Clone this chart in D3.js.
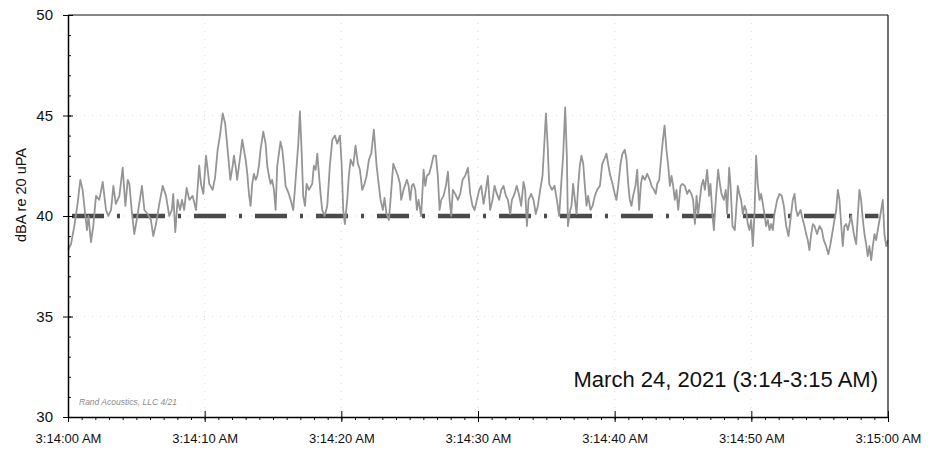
<!DOCTYPE html>
<html><head><meta charset="utf-8">
<script src="https://cdn.jsdelivr.net/npm/d3@7"></script>
<style>
body{margin:0;background:#fff;}
svg{display:block;font-family:"Liberation Sans",Arial,sans-serif;}
</style></head><body>
<svg id="chart" width="942" height="453"></svg>
<script>
// ---- data (seconds after 3:14:00 AM, dBA) ----
const seconds = [0.00,0.22,0.46,0.70,0.90,1.07,1.24,1.39,1.50,1.68,1.85,2.05,2.29,2.54,2.78,2.95,3.15,3.32,3.50,3.76,4.00,4.20,4.37,4.49,4.66,4.85,5.10,5.41,5.59,5.83,6.07,6.24,6.44,6.68,6.93,7.17,7.41,7.60,7.70,7.85,8.02,8.20,8.34,8.50,8.68,8.88,9.12,9.37,9.60,9.73,9.90,10.10,10.34,10.58,10.76,10.95,11.12,11.32,11.50,11.68,11.88,12.05,
12.14,12.26,12.38,12.51,12.63,12.75,12.87,13.00,13.12,13.24,13.36,13.48,13.60,13.73,13.85,13.97,14.09,14.29,14.46,14.58,14.70,14.82,14.94,15.07,15.19,15.31,15.55,15.68,15.80,15.92,16.04,16.16,16.29,16.48,16.60,16.73,16.85,16.97,17.09,17.21,17.34,17.46,17.63,17.87,17.99,18.12,18.24,18.36,18.48,18.60,18.77,18.97,19.16,19.34,19.53,19.70,19.90,20.02,20.14,20.26,20.43,20.55,20.68,20.87,21.04,21.21,21.36,21.53,21.70,21.85,22.02,22.19,22.38,22.58,22.75,22.87,23.04,23.16,23.31,23.48,23.60,23.80,23.97,24.14,24.29,24.38,
24.55,24.80,24.92,25.04,25.16,25.28,25.41,25.53,25.65,25.84,26.02,26.14,26.26,26.43,26.58,26.75,26.92,27.06,27.19,27.31,27.48,27.65,27.80,27.92,28.04,28.16,28.33,28.53,28.70,28.87,29.06,29.26,29.43,29.60,29.75,29.92,30.09,30.23,30.41,30.58,30.72,30.89,31.06,31.21,31.38,31.55,31.70,31.87,32.04,32.19,32.36,32.48,32.67,32.84,33.02,33.16,33.33,33.45,33.58,33.70,33.89,34.06,34.23,34.38,34.55,34.72,34.87,34.97,35.09,35.21,35.41,35.60,35.77,35.94,36.09,36.23,36.38,36.50,36.58,36.75,
36.84,36.96,37.09,37.21,37.33,37.45,37.57,37.70,37.82,37.94,38.06,38.23,38.38,38.55,38.72,38.92,39.09,39.23,39.40,39.52,39.65,39.84,40.01,40.13,40.26,40.43,40.57,40.74,40.87,40.99,41.11,41.23,41.35,41.52,41.65,41.79,41.92,42.04,42.21,42.38,42.57,42.70,42.87,43.01,43.11,43.26,43.35,43.50,43.65,43.79,43.92,44.04,44.16,44.28,44.40,44.52,44.65,44.82,44.96,45.13,45.31,45.45,45.62,45.74,45.87,45.99,46.11,46.23,46.35,46.48,46.60,46.77,46.91,47.01,47.16,47.26,47.40,47.57,47.70,47.82,47.99,48.13,48.23,48.38,48.48,48.62,48.79,48.91,
49.01,49.13,49.25,49.38,49.50,49.62,49.74,49.86,49.99,50.11,50.23,50.35,50.47,50.60,50.72,50.84,50.96,51.08,51.21,51.33,51.45,51.57,51.69,51.89,52.06,52.23,52.38,52.55,52.72,52.86,53.03,53.16,53.28,53.40,53.60,53.77,53.89,54.01,54.13,54.25,54.38,54.50,54.62,54.81,54.99,55.16,55.30,55.47,55.64,55.79,55.96,56.08,56.21,56.33,56.45,56.57,56.69,56.81,56.94,57.06,57.30,57.50,57.67,57.79,57.91,58.03,58.16,58.28,58.40,58.52,58.64,58.77,58.89,59.01,59.13,59.25,59.38,59.50,59.62,59.74,59.87,59.99];
const dba = [38.3,38.6,39.5,40.6,41.8,41.3,40.2,39.3,40.0,38.7,39.5,41.0,40.8,41.7,40.3,40.0,40.3,41.5,40.6,41.0,42.4,40.5,41.8,41.6,40.3,39.1,40.1,41.5,40.3,40.1,39.8,39.0,39.6,40.6,41.5,41.0,40.0,40.3,41.1,39.2,40.8,40.3,40.8,40.3,41.4,40.8,41.0,40.3,42.5,41.6,41.1,43.0,41.6,41.3,41.9,43.3,44.0,45.1,44.6,43.3,41.8,42.5,
43.0,42.5,41.8,42.5,43.1,43.8,43.3,42.8,42.1,41.1,40.5,41.6,42.1,41.8,42.0,42.5,43.3,44.2,43.6,42.5,42.0,41.6,41.8,41.3,40.3,42.5,43.7,43.3,42.5,41.5,41.3,41.1,40.8,40.3,41.3,42.5,43.6,45.2,43.3,41.0,40.5,41.6,41.3,41.6,42.5,42.3,43.1,42.1,41.1,40.3,40.0,40.5,42.5,43.8,44.0,43.6,44.0,42.6,40.3,39.6,40.8,42.0,42.8,42.5,43.5,42.6,42.3,41.3,41.6,42.0,42.8,43.1,44.3,42.5,41.5,40.8,40.3,40.9,40.1,39.8,40.8,42.6,42.3,42.0,41.6,40.8,
41.3,41.8,41.5,40.8,41.5,41.6,41.3,40.3,40.8,40.0,42.3,41.5,42.0,42.1,42.5,43.0,43.0,42.0,40.3,40.8,41.0,41.5,42.2,40.8,40.0,41.3,41.1,40.8,41.1,41.8,42.0,42.4,41.1,40.5,40.3,40.8,41.3,41.5,40.6,41.3,42.0,40.3,40.8,41.5,41.1,40.8,41.3,41.5,41.0,40.8,40.1,40.8,41.1,41.5,41.0,40.5,41.7,41.3,39.5,40.8,41.1,40.8,40.1,40.5,41.3,42.0,43.8,45.1,43.6,41.6,41.3,41.5,40.8,40.0,41.6,43.0,45.4,43.0,39.5,40.3,
40.5,41.6,40.8,40.1,41.5,42.5,43.0,42.6,41.5,40.5,41.0,40.3,40.5,41.0,41.3,41.5,42.6,42.8,43.1,42.6,42.1,41.6,41.1,40.8,41.5,42.6,43.1,43.3,42.8,41.6,40.8,40.5,41.0,41.5,42.3,40.3,41.6,42.0,41.8,42.1,41.8,41.5,41.3,41.1,41.6,41.8,42.5,43.6,44.5,43.3,42.5,41.5,42.0,41.5,40.8,41.3,40.3,41.5,41.6,41.5,41.1,41.3,41.1,40.8,39.6,41.0,40.1,40.8,41.5,41.8,41.3,42.3,41.0,41.6,40.0,39.3,40.8,42.3,41.6,41.1,40.8,41.3,40.1,42.4,41.5,39.5,39.3,40.5,
41.5,41.1,40.8,40.1,40.5,40.3,39.6,39.3,39.8,38.5,40.1,43.0,41.6,40.8,41.1,40.6,40.1,39.5,39.8,39.3,39.6,39.3,40.1,40.8,41.1,41.0,40.5,39.5,39.0,39.8,40.8,41.1,40.3,40.0,40.3,39.8,39.5,39.1,38.8,38.3,39.1,39.6,39.5,39.1,39.5,39.3,38.8,38.5,38.1,38.6,39.3,39.8,40.3,41.3,40.8,39.6,38.5,39.5,39.6,39.3,40.0,39.1,38.6,40.0,41.3,40.8,39.8,39.1,38.6,38.0,38.5,37.8,38.5,39.1,38.8,39.3,39.8,40.3,40.8,39.1,38.5,38.8];
const referenceLevel = 40;
const yTicks = [30, 35, 40, 45, 50];
const xTickSeconds = [0, 10, 20, 30, 40, 50, 60];
const yLabel = "dBA re 20 uPA";
const noteText = "March 24, 2021 (3:14-3:15 AM)";
const creditText = "Rand Acoustics, LLC 4/21";

// ---- chart ----
const svg = d3.select("#chart");
const L = 68, R = 888, T = 15, B = 417;
const base = new Date(2021, 2, 24, 3, 14, 0);
const toDate = s => new Date(base.getTime() + s * 1000);
const data = seconds.map((s, i) => ({t: toDate(s), v: dba[i]}));

const x = d3.scaleTime().domain([toDate(0), toDate(60)]).range([L, R]);
const y = d3.scaleLinear().domain([30, 50]).range([B, T]);

// faint dotted grid
const grid = svg.append("g").attr("stroke", "#d6d6d6").attr("stroke-width", 1).attr("stroke-dasharray", "1,7");
yTicks.slice(1, -1).forEach(v => grid.append("line").attr("x1", L).attr("x2", R).attr("y1", y(v)).attr("y2", y(v)));
xTickSeconds.slice(1, -1).forEach(s => grid.append("line").attr("x1", x(toDate(s))).attr("x2", x(toDate(s))).attr("y1", T).attr("y2", B));

// reference dash-dot line
svg.append("line")
  .attr("x1", x(toDate(0))).attr("x2", x(toDate(59.3)))
  .attr("y1", y(referenceLevel)).attr("y2", y(referenceLevel))
  .attr("stroke", "#4a4a4a").attr("stroke-width", 4.5)
  .attr("stroke-dasharray", "32,13,3,13").attr("stroke-dashoffset", 57);

// data line
svg.append("path").datum(data)
  .attr("fill", "none").attr("stroke", "#959595").attr("stroke-width", 1.8)
  .attr("stroke-linejoin", "round")
  .attr("d", d3.line().x(d => x(d.t)).y(d => y(d.v)));

// frame
svg.append("line").attr("x1", L).attr("x2", R).attr("y1", T).attr("y2", T).attr("stroke", "#111").attr("stroke-width", 1.2);
svg.append("line").attr("x1", R).attr("x2", R).attr("y1", T).attr("y2", B).attr("stroke", "#111").attr("stroke-width", 1.2);

// y axis minor
svg.append("g").attr("transform", `translate(${L},0)`)
  .call(d3.axisRight(y).tickValues(d3.range(30, 51, 1)).tickSize(3).tickFormat(""))
  .call(g => g.select(".domain").remove())
  .call(g => g.selectAll("line").attr("stroke", "#111"));
// y axis major
const ya = svg.append("g").attr("transform", `translate(${L},0)`)
  .call(d3.axisLeft(y).tickValues(yTicks).tickSize(5).tickPadding(10).tickSizeOuter(0));
ya.selectAll(".tick line").attr("x1", 5).attr("x2", -5);
ya.select(".domain").attr("stroke-width", 1.5);
ya.selectAll("text").attr("font-size", 15).attr("font-family", "Liberation Sans, Arial, sans-serif").attr("fill", "#111");

// x axis minor
svg.append("g").attr("transform", `translate(0,${B})`)
  .call(d3.axisBottom(x).tickValues(d3.range(0, 61, 1).map(toDate)).tickSize(3).tickFormat(""))
  .call(g => g.select(".domain").remove())
  .call(g => g.selectAll("line").attr("stroke", "#111"));
// x axis major
const xa = svg.append("g").attr("transform", `translate(0,${B})`)
  .call(d3.axisBottom(x).tickValues(xTickSeconds.map(toDate)).tickSize(5).tickSizeOuter(0)
    .tickPadding(12).tickFormat(d3.timeFormat("%-I:%M:%S %p")));
xa.selectAll(".tick line").attr("y1", -6).attr("y2", 5);
xa.select(".domain").attr("stroke-width", 1.5);
xa.selectAll("text").attr("font-size", 13).attr("font-family", "Liberation Sans, Arial, sans-serif").attr("fill", "#111");

// y label
svg.append("text").attr("transform", "translate(26,195) rotate(-90)")
  .attr("text-anchor", "middle").attr("font-size", 14.5).attr("fill", "#111").text(yLabel);

// annotation
svg.append("text").attr("x", 878).attr("y", 387).attr("text-anchor", "end")
  .attr("font-size", 22).attr("fill", "#111").text(noteText);
svg.append("text").attr("x", 79).attr("y", 405).attr("font-size", 8.5)
  .attr("font-style", "italic").attr("fill", "#8a8a8a").text(creditText);
</script>
</body></html>
